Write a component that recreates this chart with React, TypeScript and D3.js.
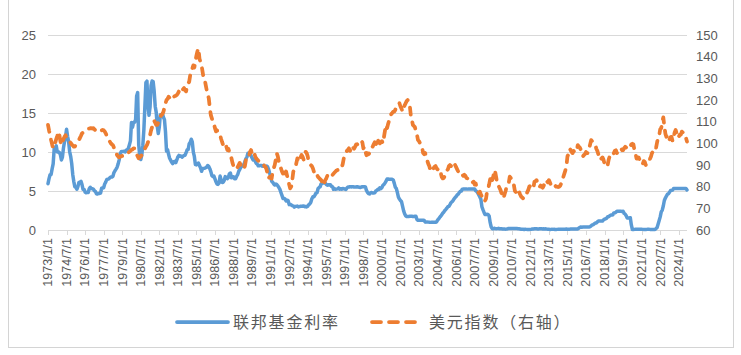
import React from 'react';
import * as d3 from 'd3';

const startYear = 1973;

// 联邦基金利率 (%), monthly from 1973/1
const fedFunds: number[] = [
  5.94, 6.58, 7.09, 7.12, 7.84, 8.49, 10.4, 10.5, 10.78, 10.01, 10.03, 9.95,
  9.65, 8.97, 9.35, 10.51, 11.31, 11.93, 12.92, 12.01, 11.34, 10.06, 9.45, 8.53,
  7.13, 6.24, 5.54, 5.49, 5.22, 5.55, 6.1, 6.14, 6.24, 5.82, 5.22, 5.2,
  4.87, 4.77, 4.84, 4.82, 5.29, 5.48, 5.31, 5.29, 5.25, 5.03, 4.95, 4.65,
  4.61, 4.68, 4.69, 4.73, 5.35, 5.39, 5.42, 5.9, 6.14, 6.47, 6.51, 6.56,
  6.7, 6.78, 6.79, 6.89, 7.36, 7.6, 7.81, 8.04, 8.45, 8.96, 9.76, 10.03,
  10.07, 10.06, 10.09, 10.01, 10.24, 10.29, 10.47, 10.94, 11.43, 13.77, 13.18, 13.78,
  13.82, 14.13, 17.19, 17.61, 10.98, 9.47, 9.03, 9.61, 10.87, 12.81, 15.85, 18.9,
  19.08, 15.93, 14.7, 15.72, 18.52, 19.1, 19.04, 17.82, 15.87, 15.08, 13.31, 12.37,
  13.22, 14.78, 14.68, 14.94, 14.45, 14.15, 12.59, 10.12, 10.31, 9.71, 9.2, 8.95,
  8.68, 8.51, 8.77, 8.8, 8.63, 8.98, 9.37, 9.56, 9.45, 9.48, 9.34, 9.47,
  9.56, 9.59, 9.91, 10.29, 10.32, 11.06, 11.23, 11.64, 11.3, 9.99, 9.43, 8.38,
  8.35, 8.5, 8.58, 8.27, 7.97, 7.53, 7.88, 7.9, 7.92, 7.99, 8.05, 8.27,
  8.14, 7.86, 7.48, 6.99, 6.85, 6.92, 6.56, 6.17, 5.89, 5.85, 6.04, 6.91,
  6.43, 6.1, 6.13, 6.37, 6.85, 6.73, 6.58, 6.73, 7.22, 7.29, 6.69, 6.77,
  6.83, 6.58, 6.58, 6.87, 7.09, 7.51, 7.75, 8.01, 8.19, 8.3, 8.35, 8.76,
  9.12, 9.36, 9.85, 9.84, 9.81, 9.53, 9.24, 8.99, 9.02, 8.84, 8.55, 8.45,
  8.23, 8.24, 8.28, 8.26, 8.18, 8.29, 8.15, 8.13, 8.2, 8.11, 7.81, 7.31,
  6.91, 6.25, 6.12, 5.91, 5.78, 5.9, 5.82, 5.66, 5.45, 5.21, 4.81, 4.43,
  4.03, 4.06, 3.98, 3.73, 3.82, 3.76, 3.25, 3.3, 3.22, 3.1, 3.09, 2.92,
  3.02, 3.03, 3.07, 2.96, 3.0, 3.04, 3.06, 3.03, 3.09, 2.99, 3.02, 2.96,
  3.05, 3.25, 3.34, 3.56, 4.01, 4.25, 4.26, 4.47, 4.73, 4.76, 5.29, 5.45,
  5.53, 5.92, 5.98, 6.05, 6.01, 6.0, 5.85, 5.74, 5.8, 5.76, 5.8, 5.6,
  5.56, 5.22, 5.31, 5.22, 5.24, 5.27, 5.4, 5.22, 5.3, 5.24, 5.31, 5.29,
  5.25, 5.19, 5.39, 5.51, 5.5, 5.56, 5.52, 5.54, 5.54, 5.5, 5.52, 5.5,
  5.56, 5.51, 5.49, 5.45, 5.49, 5.56, 5.54, 5.55, 5.51, 5.07, 4.83, 4.68,
  4.63, 4.76, 4.81, 4.74, 4.74, 4.76, 4.99, 5.07, 5.22, 5.2, 5.42, 5.3,
  5.45, 5.73, 5.85, 6.02, 6.27, 6.53, 6.54, 6.5, 6.52, 6.51, 6.51, 6.4,
  5.98, 5.49, 5.31, 4.8, 4.21, 3.97, 3.77, 3.65, 3.07, 2.49, 2.09, 1.82,
  1.73, 1.74, 1.73, 1.75, 1.75, 1.75, 1.73, 1.74, 1.75, 1.75, 1.34, 1.24,
  1.24, 1.26, 1.25, 1.26, 1.26, 1.22, 1.01, 1.03, 1.01, 1.01, 1.0, 0.98,
  1.0, 1.01, 1.0, 1.0, 1.0, 1.03, 1.26, 1.43, 1.61, 1.76, 1.93, 2.16,
  2.28, 2.5, 2.63, 2.79, 3.0, 3.04, 3.26, 3.5, 3.62, 3.78, 4.0, 4.16,
  4.29, 4.49, 4.59, 4.79, 4.94, 4.99, 5.24, 5.25, 5.25, 5.25, 5.25, 5.24,
  5.25, 5.26, 5.26, 5.25, 5.25, 5.25, 5.26, 5.02, 4.94, 4.76, 4.49, 4.24,
  3.94, 2.98, 2.61, 2.28, 1.98, 2.0, 2.01, 2.0, 1.81, 0.97, 0.39, 0.16,
  0.15, 0.22, 0.18, 0.15, 0.18, 0.21, 0.16, 0.16, 0.15, 0.12, 0.12, 0.12,
  0.11, 0.13, 0.16, 0.2, 0.2, 0.18, 0.18, 0.19, 0.19, 0.19, 0.19, 0.18,
  0.17, 0.16, 0.14, 0.1, 0.09, 0.09, 0.07, 0.1, 0.08, 0.07, 0.08, 0.07,
  0.08, 0.1, 0.13, 0.14, 0.16, 0.16, 0.16, 0.13, 0.14, 0.16, 0.16, 0.16,
  0.14, 0.15, 0.14, 0.15, 0.11, 0.09, 0.09, 0.08, 0.08, 0.09, 0.08, 0.09,
  0.07, 0.07, 0.08, 0.09, 0.09, 0.1, 0.09, 0.09, 0.09, 0.09, 0.09, 0.12,
  0.11, 0.11, 0.11, 0.12, 0.12, 0.13, 0.13, 0.14, 0.14, 0.12, 0.12, 0.24,
  0.34, 0.38, 0.36, 0.37, 0.37, 0.38, 0.39, 0.4, 0.4, 0.4, 0.41, 0.54,
  0.65, 0.66, 0.79, 0.9, 0.91, 1.04, 1.15, 1.16, 1.15, 1.15, 1.16, 1.3,
  1.41, 1.42, 1.51, 1.69, 1.7, 1.82, 1.91, 1.91, 1.95, 2.19, 2.2, 2.27,
  2.4, 2.4, 2.41, 2.42, 2.39, 2.38, 2.4, 2.13, 2.04, 1.83, 1.55, 1.55,
  1.55, 1.58, 0.65, 0.05, 0.05, 0.08, 0.09, 0.1, 0.09, 0.09, 0.09, 0.09,
  0.09, 0.08, 0.07, 0.07, 0.06, 0.08, 0.1, 0.09, 0.08, 0.08, 0.08, 0.08,
  0.08, 0.08, 0.2, 0.33, 0.77, 1.21, 1.68, 2.33, 2.56, 3.08, 3.78, 4.1,
  4.33, 4.57, 4.65, 4.83, 5.06, 5.08, 5.12, 5.33, 5.33, 5.33, 5.33, 5.33,
  5.33, 5.33, 5.33, 5.33, 5.33, 5.33, 5.33, 5.33, 5.13,
];

// 美元指数 (右轴), monthly from 1973/1
const dollarIndex: number[] = [
  108.5, 106.0, 103.8, 101.5, 99.5, 97.8, 98.5, 100.2, 102.0, 103.5, 105.4, 104.0,
  101.0, 99.2, 100.5, 102.0, 103.0, 103.8, 102.5, 101.5, 101.0, 100.8, 100.2, 99.5,
  99.0, 98.5, 98.5, 99.2, 100.0, 100.8, 101.5, 102.5, 103.5, 104.6, 105.0, 105.5,
  106.0, 106.2, 106.5, 106.8, 106.8, 107.0, 107.0, 106.8, 107.0, 106.5, 106.0, 106.2,
  106.2, 106.5, 106.0, 105.8, 106.0, 106.2, 106.0, 105.5, 104.6, 103.5, 102.5, 101.5,
  100.8, 100.0, 99.5, 99.2, 98.0, 97.0, 96.0, 94.6, 94.0, 93.5, 93.8, 94.0,
  94.2, 94.6, 94.5, 94.6, 95.0, 95.5, 95.8, 96.1, 96.5, 97.0, 97.2, 97.7,
  97.7, 96.5, 95.0, 94.0, 93.1, 93.5, 94.0, 94.6, 95.5, 96.5, 97.5, 98.5,
  99.2, 100.5, 102.0, 103.8, 106.0, 107.5, 109.2, 110.5, 109.5, 108.5, 108.5, 109.5,
  111.0, 112.3, 113.0, 113.5, 114.6, 116.5, 118.5, 120.0, 120.5, 121.5, 121.0, 120.0,
  120.8, 121.0, 121.5, 121.8, 122.0, 122.3, 123.0, 124.0, 124.5, 123.5, 123.8, 125.0,
  125.5, 124.5, 124.0, 126.2, 127.5, 128.5, 131.5, 132.0, 134.5, 136.0, 135.0, 137.7,
  140.5, 142.5, 143.8, 139.0, 137.5, 136.0, 133.0, 130.0, 129.5, 127.0, 124.5, 122.5,
  120.8, 116.5, 113.0, 111.5, 110.0, 109.0, 107.0, 105.5, 106.0, 104.5, 104.0, 103.8,
  102.0, 100.5, 99.2, 98.0, 97.5, 98.5, 96.9, 97.5, 96.0, 94.5, 93.1, 91.0,
  89.5, 90.0, 89.2, 88.5, 89.0, 90.0, 91.0, 90.0, 90.5, 89.5, 88.5, 89.5,
  92.3, 92.0, 93.5, 94.0, 96.0, 96.9, 95.0, 95.5, 96.0, 94.0, 93.1, 92.5,
  92.0, 91.8, 91.5, 91.5, 91.0, 90.5, 89.5, 89.2, 88.0, 86.0, 83.8, 84.5,
  84.0, 83.8, 87.0, 88.5, 90.0, 92.5, 95.4, 94.0, 91.5, 90.5, 88.5, 87.0,
  86.0, 87.5, 85.4, 87.0, 85.0, 83.0, 81.0, 79.2, 80.0, 83.0, 86.9, 88.0,
  88.5, 91.0, 93.1, 91.5, 92.0, 93.5, 94.6, 93.8, 92.5, 94.0, 96.1, 95.5,
  94.0, 91.5, 91.0, 90.0, 89.5, 88.5, 86.9, 87.5, 86.5, 85.5, 84.5, 84.0,
  83.5, 83.0, 82.3, 80.5, 81.5, 83.0, 83.8, 85.0, 85.5, 84.5, 85.0, 85.4,
  85.4, 86.0, 86.5, 87.0, 87.5, 87.7, 87.7, 87.5, 88.0, 89.0, 90.5, 93.1,
  94.0, 95.5, 96.5, 97.0, 97.7, 96.5, 97.5, 99.0, 98.0, 97.5, 98.5, 99.5,
  99.5, 100.0, 100.8, 101.5, 101.0, 100.5, 97.7, 98.5, 96.1, 94.5, 95.5, 95.0,
  95.5, 96.9, 98.0, 98.5, 99.5, 100.5, 100.0, 99.0, 101.5, 100.5, 100.0, 100.5,
  101.0, 100.0, 103.0, 106.0, 108.5, 107.0, 109.0, 110.5, 111.5, 113.5, 114.0, 114.6,
  114.6, 115.5, 117.0, 117.5, 117.5, 118.5, 117.0, 116.0, 114.6, 116.0, 117.5, 118.5,
  119.5, 120.0, 118.5, 117.5, 113.0, 111.0, 108.5, 108.0, 107.5, 105.4, 104.0, 101.5,
  101.0, 100.0, 99.2, 98.0, 95.5, 95.0, 95.5, 93.1, 92.0, 90.5, 89.5, 87.5,
  86.9, 87.5, 88.5, 89.2, 89.5, 88.5, 88.0, 88.5, 88.0, 86.5, 84.5, 83.8,
  84.0, 85.0, 86.9, 87.5, 88.0, 89.5, 90.0, 89.5, 90.8, 90.5, 91.0, 90.0,
  89.0, 88.0, 87.0, 86.0, 85.5, 86.0, 85.5, 85.0, 85.5, 85.0, 84.0, 83.8,
  84.0, 84.0, 83.5, 82.3, 82.0, 82.3, 81.0, 81.5, 79.5, 78.0, 77.0, 77.7,
  76.5, 75.5, 74.0, 73.1, 73.5, 74.5, 77.7, 79.0, 81.0, 83.5, 85.4, 83.0,
  84.5, 87.7, 86.5, 84.0, 80.8, 80.5, 79.5, 78.5, 77.0, 76.0, 74.6, 76.5,
  78.0, 80.0, 80.5, 81.5, 84.6, 84.0, 83.0, 82.0, 80.8, 78.0, 77.5, 79.0,
  78.5, 77.7, 76.5, 75.5, 75.0, 74.6, 74.6, 74.8, 76.2, 77.5, 78.5, 80.0,
  80.5, 79.5, 79.8, 79.5, 82.3, 82.5, 83.0, 82.0, 80.0, 79.8, 80.5, 80.0,
  79.5, 80.5, 82.0, 83.1, 82.5, 82.0, 83.0, 82.0, 80.8, 80.0, 80.5, 80.8,
  80.5, 80.0, 80.0, 79.8, 80.0, 80.5, 81.5, 82.3, 84.5, 86.0, 87.5, 89.5,
  94.0, 95.0, 97.5, 97.0, 96.0, 95.5, 96.5, 96.0, 95.8, 96.5, 99.2, 98.5,
  98.0, 97.0, 95.5, 94.0, 94.6, 95.0, 96.0, 95.5, 95.5, 97.5, 99.5, 101.5,
  101.0, 100.5, 100.0, 99.5, 97.5, 96.5, 95.0, 93.0, 92.3, 93.0, 93.5, 92.5,
  90.5, 89.2, 89.8, 90.0, 92.5, 94.0, 94.5, 95.0, 94.5, 95.5, 96.5, 96.8,
  95.5, 96.5, 96.6, 97.2, 97.8, 96.8, 96.9, 97.8, 98.4, 98.0, 97.8, 97.5,
  97.3, 98.5, 99.5, 99.8, 99.5, 97.0, 95.5, 93.0, 93.0, 93.5, 92.5, 90.5,
  90.3, 90.5, 91.8, 91.5, 90.0, 90.8, 92.5, 92.8, 92.8, 93.8, 95.5, 96.2,
  95.8, 96.0, 98.0, 100.5, 103.0, 103.5, 106.5, 107.0, 110.0, 112.0, 108.0, 104.5,
  103.0, 104.0, 104.0, 101.8, 102.8, 103.0, 101.0, 103.0, 105.0, 106.2, 104.5, 102.5,
  103.0, 104.0, 104.0, 105.4, 105.0, 105.0, 104.5, 102.5, 100.8,
];

const tickLabels: string[] = [
  '1973/1/1', '1974/7/1', '1976/1/1', '1977/7/1', '1979/1/1', '1980/7/1', '1982/1/1',
  '1983/7/1', '1985/1/1', '1986/7/1', '1988/1/1', '1989/7/1', '1991/1/1', '1992/7/1',
  '1994/1/1', '1995/7/1', '1997/1/1', '1998/7/1', '2000/1/1', '2001/7/1', '2003/1/1',
  '2004/7/1', '2006/1/1', '2007/7/1', '2009/1/1', '2010/7/1', '2012/1/1', '2013/7/1',
  '2015/1/1', '2016/7/1', '2018/1/1', '2019/7/1', '2021/1/1', '2022/7/1', '2024/1/1',
];

const leftTicks = [0, 5, 10, 15, 20, 25];
const rightTicks = [60, 70, 80, 90, 100, 110, 120, 130, 140, 150];
const seriesNames = ['联邦基金利率', '美元指数（右轴）'];

const W = 741;
const H = 355;
const P = { left: 48, right: 687, top: 35, bottom: 230 };
const BLUE = '#5B9BD5';
const ORANGE = '#ED7D31';
const GRID = '#d9d9d9';
const TEXT = '#595959';
const NUM_FONT = '"Liberation Sans", Arial, sans-serif';
const CJK_FONT = '"Noto Sans CJK SC", "Noto Sans", sans-serif';

export default function App() {
  const n = fedFunds.length;
  const categories = d3.range(n).map(
    (i) => `${startYear + Math.floor(i / 12)}/${(i % 12) + 1}/1`
  );
  const x = d3.scalePoint<string>().domain(categories).range([P.left, P.right]);
  const yL = d3.scaleLinear().domain([0, 25]).range([P.bottom, P.top]);
  const yR = d3.scaleLinear().domain([60, 150]).range([P.bottom, P.top]);

  const lineL = d3
    .line<number>()
    .x((_, i) => x(categories[i]) as number)
    .y((d) => yL(d));
  const lineR = d3
    .line<number>()
    .x((_, i) => x(categories[i]) as number)
    .y((d) => yR(d));

  return (
    <svg
      width={W}
      height={H}
      style={{ position: 'absolute', left: 0, top: 0, background: '#fff' }}
    >
      <rect x={0} y={0} width={W} height={H} fill="#fff" />
      <rect x={8.5} y={-2} width={725} height={349.5} fill="none" stroke="#d4d4d4" strokeWidth={1} />

      {leftTicks.map((t) => (
        <line
          key={'g' + t}
          x1={P.left}
          x2={P.right}
          y1={Math.round(yL(t)) + 0.5}
          y2={Math.round(yL(t)) + 0.5}
          stroke={GRID}
          strokeWidth={1}
        />
      ))}

      {tickLabels.map((lab) => {
        const xx = Math.round(x(lab) as number) + 0.5;
        return (
          <line key={'tk' + lab} x1={xx} x2={xx} y1={P.bottom} y2={P.bottom + 5} stroke={GRID} />
        );
      })}

      {leftTicks.map((t) => (
        <text
          key={'l' + t}
          x={36}
          y={yL(t)}
          dy="0.35em"
          textAnchor="end"
          fontFamily={NUM_FONT}
          fontSize={13}
          fill={TEXT}
        >
          {t}
        </text>
      ))}
      {rightTicks.map((t) => (
        <text
          key={'r' + t}
          x={696}
          y={yR(t)}
          dy="0.35em"
          textAnchor="start"
          fontFamily={NUM_FONT}
          fontSize={13}
          fill={TEXT}
        >
          {t}
        </text>
      ))}

      {tickLabels.map((lab) => (
        <text
          key={'x' + lab}
          transform={`translate(${x(lab)},${238}) rotate(-90)`}
          dy="0.35em"
          textAnchor="end"
          fontFamily={NUM_FONT}
          fontSize={12.5}
          fill={TEXT}
        >
          {lab}
        </text>
      ))}

      <path
        d={lineL(fedFunds) || ''}
        fill="none"
        stroke={BLUE}
        strokeWidth={3.5}
        strokeLinejoin="round"
        strokeLinecap="round"
      />
      <path
        d={lineR(dollarIndex) || ''}
        fill="none"
        stroke={ORANGE}
        strokeWidth={3.75}
        strokeLinejoin="round"
        strokeLinecap="round"
        strokeDasharray="7 8"
      />

      <line x1={177} x2={228} y1={322} y2={322} stroke={BLUE} strokeWidth={3.75} strokeLinecap="round" />
      <text
        x={233}
        y={322}
        dy="0.35em"
        fontFamily={CJK_FONT}
        fontSize={16}
        letterSpacing={1.8}
        fill={TEXT}
      >
        {seriesNames[0]}
      </text>
      <line
        x1={372}
        x2={418}
        y1={322}
        y2={322}
        stroke={ORANGE}
        strokeWidth={3.75}
        strokeLinecap="round"
        strokeDasharray="9 8"
      />
      <text
        x={429}
        y={322}
        dy="0.35em"
        fontFamily={CJK_FONT}
        fontSize={16}
        letterSpacing={1.8}
        fill={TEXT}
      >
        {seriesNames[1]}
      </text>
    </svg>
  );
}
